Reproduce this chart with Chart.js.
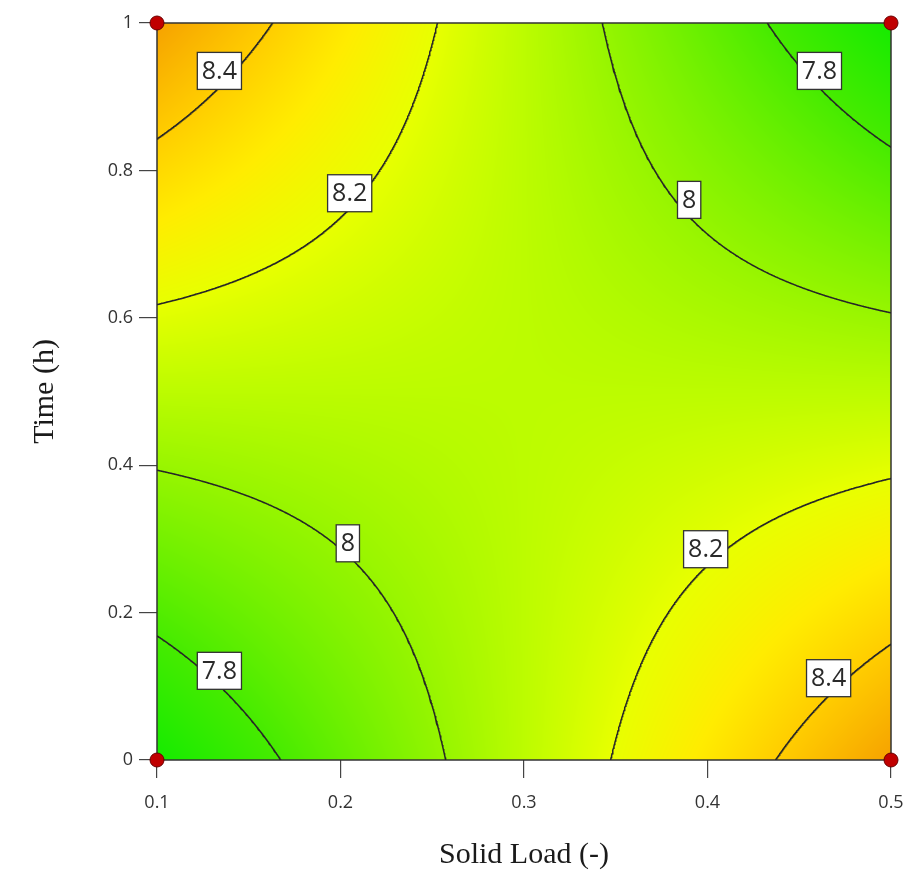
<!DOCTYPE html>
<html>
<head>
<meta charset="utf-8">
<script src="https://cdn.jsdelivr.net/npm/chart.js@4.4.1/dist/chart.umd.min.js"></script>
<style>
  html, body { margin: 0; padding: 0; background: #ffffff; }
  #wrap { width: 909px; height: 874px; }
</style>
</head>
<body>
<div id="wrap"><canvas id="contour" width="909" height="874"></canvas></div>
<script>
(function () {
  'use strict';

  /*--------- DATA --------*/

  // design points (corners) and the response read at each of them
  const xCorners = [0.1, 0.5];          // Solid Load (-)
  const yCorners = [0, 1];              // Time (h)
  const zBottom  = [7.65, 8.54];        // response at y = 0   (x = 0.1, 0.5)
  const zTop     = [8.54, 7.65];        // response at y = 1   (x = 0.1, 0.5)

  const designX = [0.1, 0.5, 0.1, 0.5];
  const designY = [0, 0, 1, 1];

  // contour levels and where each label box sits (data coords)
  const levels = [7.8, 8, 8.2, 8.4];
  const labelLevel = [8.4, 8.2, 8, 7.8, 7.8, 8, 8.2, 8.4];
  const labelX     = [0.134, 0.205, 0.390, 0.461, 0.134, 0.204, 0.399, 0.466];
  const labelY     = [0.935, 0.769, 0.760, 0.935, 0.121, 0.294, 0.286, 0.111];

  const xTicks = [0.1, 0.2, 0.3, 0.4, 0.5];
  const yTicks = [0, 0.2, 0.4, 0.6, 0.8, 1];

  // colour ramp  [value, r, g, b]
  const RAMP = [
    [7.65, 20, 235, 0],
    [7.80, 70, 235, 0],
    [8.00, 150, 245, 0],
    [8.10, 190, 252, 0],
    [8.20, 232, 255, 0],
    [8.30, 255, 236, 0],
    [8.40, 255, 205, 0],
    [8.55, 245, 158, 0]
  ];


  /*--------- SURFACE HELPERS --------*/

  function surface(x, y) {
    const s = (x - xCorners[0]) / (xCorners[1] - xCorners[0]);
    const t = (y - yCorners[0]) / (yCorners[1] - yCorners[0]);
    return zBottom[0] * (1 - s) * (1 - t) + zBottom[1] * s * (1 - t) +
           zTop[0] * (1 - s) * t + zTop[1] * s * t;
  }

  // y on the contour for a given x (null if outside the box)
  function contourY(level, x) {
    const s = (x - xCorners[0]) / (xCorners[1] - xCorners[0]);
    const a = zBottom[0] * (1 - s) + zBottom[1] * s;
    const b = (zTop[0] - zBottom[0]) * (1 - s) + (zTop[1] - zBottom[1]) * s;
    if (Math.abs(b) < 1e-9) return null;
    const t = (level - a) / b;
    if (t < 0 || t > 1) return null;
    return yCorners[0] + t * (yCorners[1] - yCorners[0]);
  }

  // x where the contour meets a horizontal edge
  function contourXAtEdge(level, t) {
    const c = zBottom[0] * (1 - t) + zTop[0] * t;
    const d = (zBottom[1] * (1 - t) + zTop[1] * t) - c;
    if (Math.abs(d) < 1e-9) return null;
    const s = (level - c) / d;
    if (s < 0 || s > 1) return null;
    return xCorners[0] + s * (xCorners[1] - xCorners[0]);
  }

  function contourSegments(level) {
    const n = 1600;
    const span = xCorners[1] - xCorners[0];
    const pts = [];
    for (let i = 0; i <= n; i++) {
      const x = xCorners[0] + span * i / n;
      const y = contourY(level, x);
      if (y !== null) pts.push({ x: x, y: y });
    }
    [0, 1].forEach(function (t) {
      const x = contourXAtEdge(level, t);
      if (x !== null) pts.push({ x: x, y: yCorners[0] + t * (yCorners[1] - yCorners[0]) });
    });
    pts.sort(function (p, q) { return p.x - q.x; });

    const segs = [];
    let cur = [];
    pts.forEach(function (p) {
      if (cur.length && p.x - cur[cur.length - 1].x > span * 3 / n) {
        segs.push(cur);
        cur = [];
      }
      cur.push(p);
    });
    if (cur.length) segs.push(cur);
    return segs.filter(function (s) { return s.length > 1; });
  }

  function rampColour(v) {
    if (v <= RAMP[0][0]) return RAMP[0].slice(1);
    for (let i = 1; i < RAMP.length; i++) {
      if (v <= RAMP[i][0]) {
        const f = (v - RAMP[i - 1][0]) / (RAMP[i][0] - RAMP[i - 1][0]);
        return [1, 2, 3].map(function (k) {
          return RAMP[i - 1][k] + (RAMP[i][k] - RAMP[i - 1][k]) * f;
        });
      }
    }
    return RAMP[RAMP.length - 1].slice(1);
  }


  /*--------- DATASETS --------*/

  const datasets = [];

  levels.forEach(function (lv) {
    contourSegments(lv).forEach(function (seg) {
      datasets.push({
        data: seg,
        showLine: true,
        borderColor: '#262626',
        borderWidth: 1.5,
        pointRadius: 0,
        pointHoverRadius: 0,
        tension: 0,
        fill: false
      });
    });
  });

  datasets.push({
    data: designX.map(function (x, i) { return { x: x, y: designY[i] }; }),
    showLine: false,
    pointRadius: 7,
    pointHoverRadius: 7,
    backgroundColor: '#c00000',
    borderColor: '#6a0000',
    borderWidth: 1,
    clip: false
  });


  /*--------- PLUGINS --------*/

  // colour field + frame, drawn under the datasets
  const fieldPlugin = {
    id: 'field',
    beforeDatasetsDraw: function (chart) {
      const ctx = chart.ctx;
      const area = chart.chartArea;
      const xs = chart.scales.x;
      const ys = chart.scales.y;
      const w = Math.round(area.right - area.left);
      const h = Math.round(area.bottom - area.top);
      const img = ctx.createImageData(w, h);
      for (let j = 0; j < h; j++) {
        const yv = ys.getValueForPixel(area.top + j + 0.5);
        for (let i = 0; i < w; i++) {
          const xv = xs.getValueForPixel(area.left + i + 0.5);
          const c = rampColour(surface(xv, yv));
          const o = (j * w + i) * 4;
          img.data[o] = c[0];
          img.data[o + 1] = c[1];
          img.data[o + 2] = c[2];
          img.data[o + 3] = 255;
        }
      }
      ctx.putImageData(img, Math.round(area.left), Math.round(area.top));

      ctx.save();
      ctx.strokeStyle = '#333333';
      ctx.lineWidth = 1.5;
      ctx.strokeRect(area.left, area.top, area.right - area.left, area.bottom - area.top);
      ctx.restore();
    }
  };

  // boxed contour labels
  const labelPlugin = {
    id: 'contourLabels',
    afterDatasetsDraw: function (chart) {
      const ctx = chart.ctx;
      const xs = chart.scales.x;
      const ys = chart.scales.y;
      ctx.save();
      ctx.font = '25px "Open Sans"';
      ctx.textAlign = 'center';
      ctx.textBaseline = 'middle';
      labelLevel.forEach(function (lv, i) {
        const px = xs.getPixelForValue(labelX[i]);
        const py = ys.getPixelForValue(labelY[i]);
        const txt = String(lv);
        const tw = ctx.measureText(txt).width;
        const bw = tw + 9;
        const bh = 37;
        ctx.fillStyle = '#ffffff';
        ctx.fillRect(px - bw / 2, py - bh / 2, bw, bh);
        ctx.strokeStyle = '#333333';
        ctx.lineWidth = 1.3;
        ctx.strokeRect(px - bw / 2, py - bh / 2, bw, bh);
        ctx.fillStyle = '#2a2a2a';
        ctx.fillText(txt, px, py + 1);
      });
      ctx.restore();
    }
  };


  /*--------- CHART --------*/

  const tickFont = { family: 'Open Sans', size: 18 };

  new Chart(document.getElementById('contour'), {
    type: 'scatter',
    data: { datasets: datasets },
    plugins: [fieldPlugin, labelPlugin],
    options: {
      responsive: false,
      animation: false,
      layout: { padding: { top: 23, right: 18, bottom: 0, left: 0 } },
      plugins: {
        legend: { display: false },
        tooltip: { enabled: false }
      },
      scales: {
        x: {
          type: 'linear',
          min: xCorners[0],
          max: xCorners[1],
          afterBuildTicks: function (scale) {
            scale.ticks = xTicks.map(function (v) { return { value: v }; });
          },
          afterFit: function (scale) {
            scale.height = 114;
            scale.paddingLeft = 0;
            scale.paddingRight = 0;   // layout padding handles the edge
          },
          grid: { drawOnChartArea: false, drawTicks: true, tickLength: 18, color: '#444444', lineWidth: 1.2 },
          border: { display: false },
          ticks: {
            font: tickFont,
            color: '#333333',
            padding: 14,
            maxRotation: 0,
            callback: function (v) { return String(Math.round(v * 10) / 10); }
          },
          title: {
            display: true,
            text: 'Solid Load (-)',
            font: { family: 'Liberation Serif', size: 30 },
            color: '#1a1a1a',
            padding: { top: 0, bottom: 1 }
          }
        },
        y: {
          type: 'linear',
          min: yCorners[0],
          max: yCorners[1],
          afterBuildTicks: function (scale) {
            scale.ticks = yTicks.map(function (v) { return { value: v }; });
          },
          afterFit: function (scale) {
            scale.width = 157;
            scale.paddingTop = 0;
            scale.paddingBottom = 0;
          },
          grid: { drawOnChartArea: false, drawTicks: true, tickLength: 18, color: '#444444', lineWidth: 1.2 },
          border: { display: false },
          ticks: {
            font: tickFont,
            color: '#333333',
            padding: 6,
            callback: function (v) { return String(Math.round(v * 10) / 10); }
          },
          title: {
            display: true,
            text: 'Time (h)',
            font: { family: 'Liberation Serif', size: 30 },
            color: '#1a1a1a',
            padding: { top: 27, bottom: 0 }
          }
        }
      }
    }
  });

})();
</script>
</body>
</html>
